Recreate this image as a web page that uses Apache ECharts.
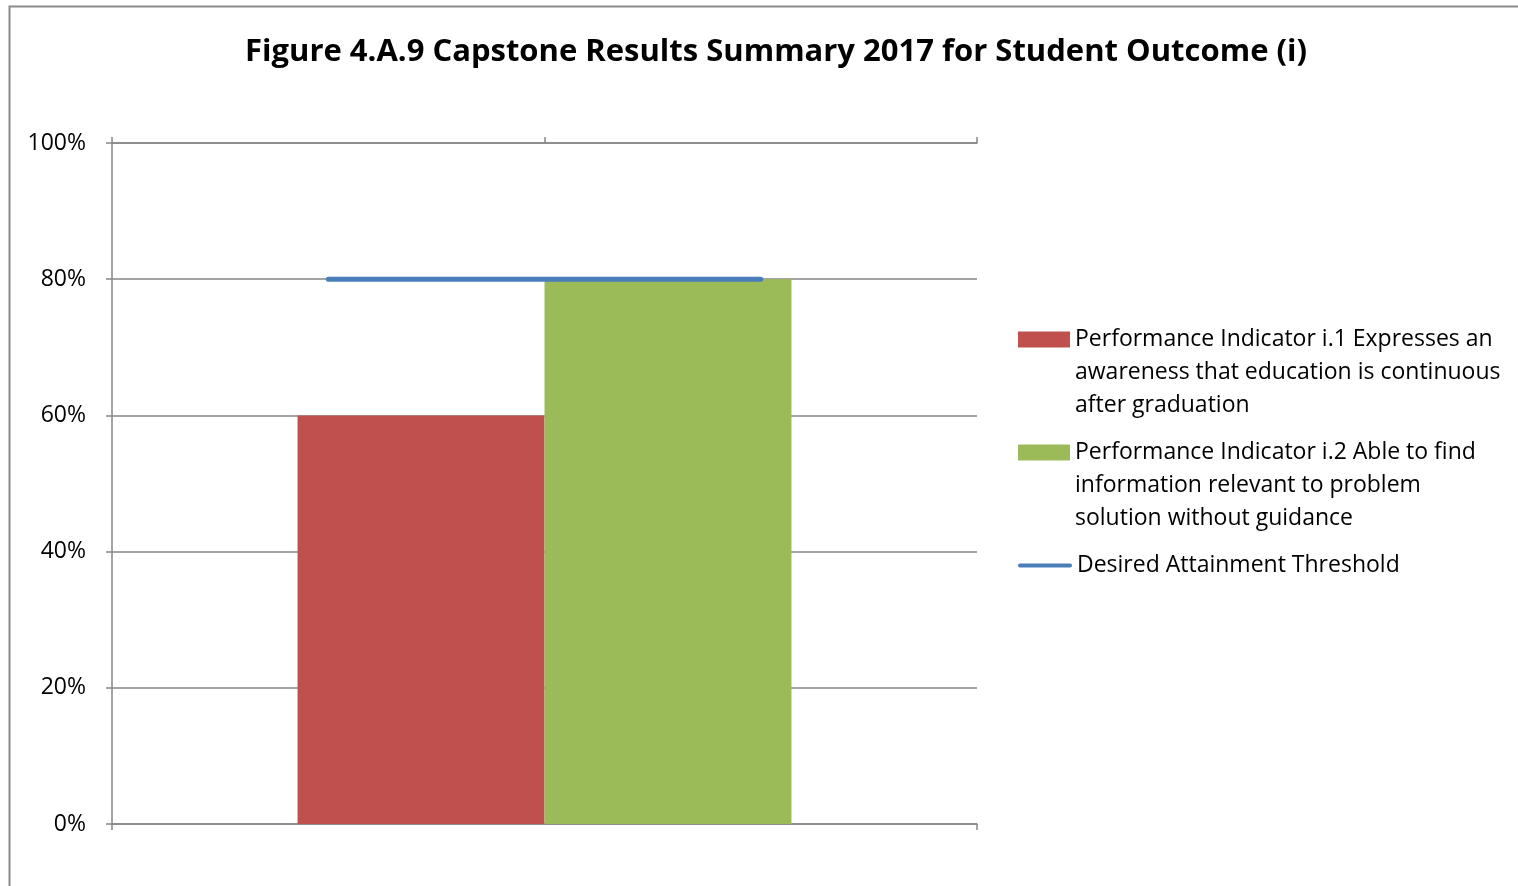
<!DOCTYPE html>
<html>
<head>
<meta charset="utf-8">
<style>
  html, body { margin: 0; padding: 0; background: #ffffff; }
  #chart { width: 1518px; height: 886px; }
</style>
<script src="https://cdn.jsdelivr.net/npm/echarts@6/dist/echarts.min.js"></script>
</head>
<body>
<div id="chart"></div>
<script>
// Capstone results for Student Outcome (i), 2017
const titleText = 'Figure 4.A.9 Capstone Results Summary 2017 for Student Outcome (i)';
const barCategories = [''];
const thresholdCategories = ['', ''];
const indicator1Name = 'Performance Indicator i.1 Expresses an awareness that education is continuous after graduation';
const indicator2Name = 'Performance Indicator i.2 Able to find information relevant to problem solution without guidance';
const thresholdName = 'Desired Attainment Threshold';
const indicator1Values = [60];
const indicator2Values = [80];
const thresholdValues = [80, 80];
const yTicks = [0, 20, 40, 60, 80, 100];

// Legend labels wrapped the way the original legend wraps them
const legendLines = {};
legendLines[indicator1Name] = ['Performance Indicator i.1 Expresses an', 'awareness that education is continuous', 'after graduation'];
legendLines[indicator2Name] = ['Performance Indicator i.2 Able to find', 'information relevant to problem', 'solution without guidance'];
legendLines[thresholdName] = ['Desired Attainment Threshold'];
const legendKey = {};
legendKey[indicator1Name] = 'red';
legendKey[indicator2Name] = 'green';
legendKey[thresholdName] = 'blue';

const RED = '#C0504D', GREEN = '#9BBB59', BLUE = '#4A7EBB', AXIS = '#868686';
const FONT = '"Open Sans", "Noto Sans", sans-serif';

const chart = echarts.init(document.getElementById('chart'), null, { renderer: 'canvas' });

chart.setOption({
  backgroundColor: '#ffffff',
  animation: false,
  textStyle: { fontFamily: FONT },
  title: {
    text: titleText,
    left: 771,
    top: 32,
    textAlign: 'center',
    textStyle: { fontFamily: FONT, fontWeight: 'bold', fontSize: 31, color: '#000000' }
  },
  graphic: [{
    type: 'rect',
    shape: { x: 9.5, y: 6.5, width: 1600, height: 1000 },
    style: { fill: 'none', stroke: '#8a8a8a', lineWidth: 2 },
    silent: true, z: -1
  }],
  legend: {
    orient: 'vertical',
    left: 1008,
    top: 318,
    itemGap: 14,
    itemWidth: 0,
    itemHeight: 0,
    icon: 'rect',
    selectedMode: false,
    data: [indicator1Name, indicator2Name, thresholdName],
    formatter: function (name) {
      const lines = legendLines[name];
      const key = legendKey[name];
      return lines.map(function (ln, i) {
        return (i === 0 ? '{' + key + '|}{g|}' : '{pad|}') + '{t|' + ln + '}';
      }).join('\n');
    },
    textStyle: {
      fontFamily: FONT,
      fontSize: 23,
      lineHeight: 33,
      color: '#000000',
      rich: {
        t: { fontFamily: FONT, fontSize: 23, lineHeight: 33, color: '#000000' },
        red: { width: 52, height: 16, backgroundColor: RED },
        green: { width: 52, height: 16, backgroundColor: GREEN },
        blue: { width: 54, height: 4, backgroundColor: BLUE, borderRadius: 2 },
        g: { width: 5 },
        pad: { width: 57 }
      }
    }
  },
  grid: { left: 112, right: 541, top: 143, bottom: 62, containLabel: false },
  xAxis: [{
    type: 'category',
    data: barCategories,
    position: 'bottom',
    axisLine: { show: true, lineStyle: { color: AXIS, width: 1.5 } },
    axisTick: { show: true, length: 6, lineStyle: { color: AXIS, width: 1.5 } },
    axisLabel: { show: false }
  }, {
    type: 'category',
    data: thresholdCategories,
    position: 'top',
    axisLine: { show: true, lineStyle: { color: AXIS, width: 1.5 } },
    axisTick: { show: true, length: 6, lineStyle: { color: AXIS, width: 1.5 } },
    axisLabel: { show: false }
  }],
  yAxis: {
    type: 'value',
    min: yTicks[0],
    max: yTicks[yTicks.length - 1],
    interval: yTicks[1] - yTicks[0],
    axisLine: { show: true, lineStyle: { color: AXIS, width: 1.5 } },
    axisTick: { show: true, length: 6, lineStyle: { color: AXIS, width: 1.5 } },
    axisLabel: {
      formatter: '{value}%',
      fontFamily: FONT,
      fontSize: 23,
      color: '#000000',
      margin: 26,
      padding: [3, 0, 0, 0]
    },
    splitLine: { show: true, lineStyle: { color: AXIS, width: 1.5 } }
  },
  series: [{
    name: indicator1Name,
    type: 'bar',
    xAxisIndex: 0,
    data: indicator1Values,
    barGap: '0%',
    barCategoryGap: '42.9%',
    itemStyle: { color: RED }
  }, {
    name: indicator2Name,
    type: 'bar',
    xAxisIndex: 0,
    data: indicator2Values,
    barGap: '0%',
    barCategoryGap: '42.9%',
    itemStyle: { color: GREEN }
  }, {
    name: thresholdName,
    type: 'line',
    xAxisIndex: 1,
    data: thresholdValues,
    symbol: 'none',
    lineStyle: { color: BLUE, width: 5, cap: 'round' },
    itemStyle: { color: BLUE },
    z: 5
  }]
});
</script>
</body>
</html>
